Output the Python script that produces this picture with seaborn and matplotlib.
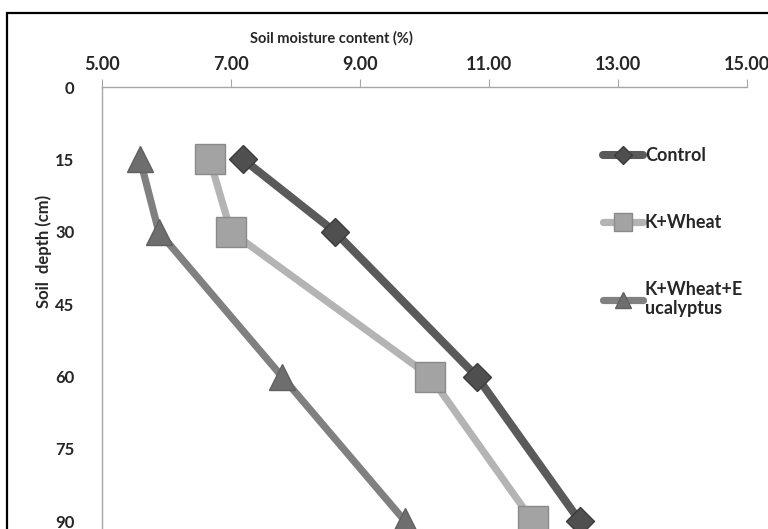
import matplotlib
matplotlib.use("Agg")
import matplotlib.pyplot as plt
import seaborn as sns
from matplotlib.patches import Rectangle

depth = [15, 30, 60, 90]
control = [7.19, 8.61, 10.81, 12.41]
k_wheat = [6.67, 7.00, 10.09, 11.68]
k_wheat_euc = [5.59, 5.88, 7.79, 9.70]
x_ticks = [5, 7, 9, 11, 13, 15]
y_ticks = [0, 15, 30, 45, 60, 75, 90]

sns.set_style("white")
plt.rcParams["font.family"] = ["Lato", "DejaVu Sans"]
plt.rcParams["font.weight"] = "bold"

fig = plt.figure(figsize=(7.68, 5.29), dpi=100)
ax = fig.add_axes([102 / 768, 0.0, 645 / 768, 1 - 87 / 529])

sns.lineplot(x=control, y=depth, sort=False, ax=ax, color="#5a5a5a", lw=5.8,
             marker="D", ms=14.5, mfc="#4f4f4f", mec="#3c3c3c", mew=1,
             label="Control", zorder=3)
sns.lineplot(x=k_wheat, y=depth, sort=False, ax=ax, color="#b4b4b4", lw=5.2,
             marker="s", ms=21, mfc="#a3a3a3", mec="#8a8a8a", mew=1,
             label="K+Wheat", zorder=2)
sns.lineplot(x=k_wheat_euc, y=depth, sort=False, ax=ax, color="#808080", lw=5.2,
             marker="^", ms=19, mfc="#6e6e6e", mec="#606060", mew=1,
             label="K+Wheat+E\nucalyptus", zorder=2)

ax.set_xlim(5, 15)
ax.set_ylim(91.6, 0)
ax.set_xticks(x_ticks)
ax.set_xticklabels([f"{v:.2f}" for v in x_ticks])
ax.set_yticks(y_ticks)
ax.xaxis.tick_top()
ax.xaxis.set_label_position("top")
ax.tick_params(axis="x", direction="out", length=6, color="#a6a6a6",
               labelsize=13, pad=4)
ax.tick_params(axis="y", direction="out", length=6, color="#a6a6a6",
               labelsize=12, pad=14)
ax.set_xlabel("Soil moisture content (%)", fontsize=10.5, fontweight="bold")
ax.set_ylabel("Soil  depth (cm)", fontsize=12, fontweight="bold")
ax.xaxis.set_label_coords(0.355, 1.10)
ax.yaxis.set_label_coords(-0.078, 0.627)

for s in ["right", "bottom"]:
    ax.spines[s].set_visible(False)
for s in ["left", "top"]:
    ax.spines[s].set_color("#a6a6a6")
    ax.spines[s].set_linewidth(1)

ax.legend(loc="upper left", bbox_to_anchor=(587 / 768, 1 - 131 / 529),
          bbox_transform=fig.transFigure, frameon=False, fontsize=13,
          handlelength=2.2, handletextpad=0.1, labelspacing=2.75,
          markerscale=0.6)

fig.patches.append(Rectangle((7 / 768, -0.05), 1.2, 1.05 - 13 / 529,
                             transform=fig.transFigure, fill=False,
                             edgecolor="black", lw=1.6))

fig.savefig("out.png", dpi=100)
